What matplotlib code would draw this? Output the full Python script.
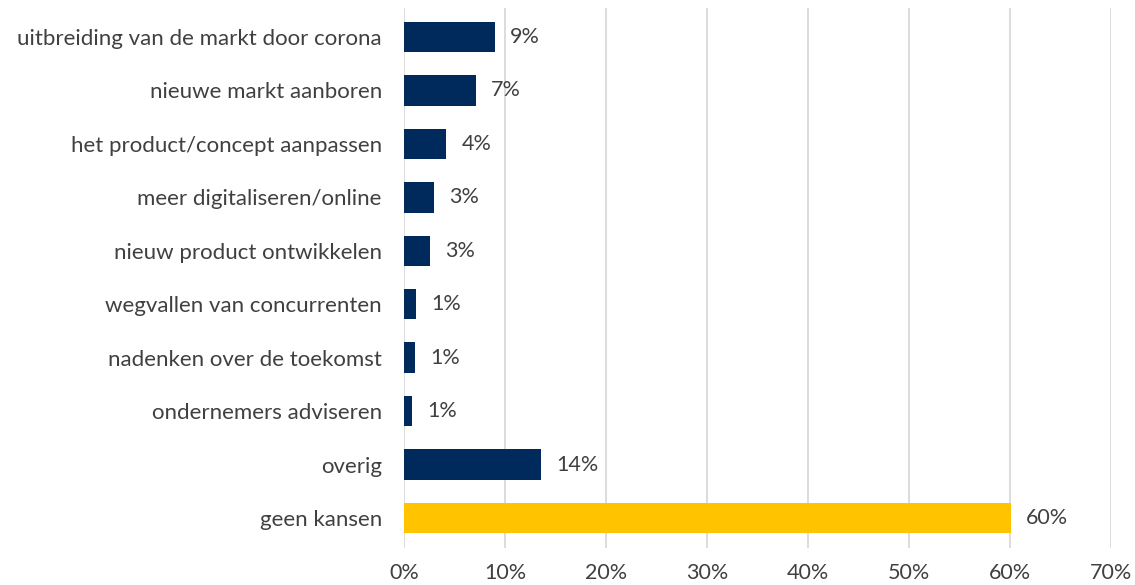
import matplotlib
matplotlib.use("Agg")
import matplotlib.pyplot as plt

# data (top to bottom as in the picture)
categories = [
    "uitbreiding van de markt door corona",
    "nieuwe markt aanboren",
    "het product/concept aanpassen",
    "meer digitaliseren/online",
    "nieuw product ontwikkelen",
    "wegvallen van concurrenten",
    "nadenken over de toekomst",
    "ondernemers adviseren",
    "overig",
    "geen kansen",
]
values = [9.0, 7.1, 4.2, 3.0, 2.6, 1.2, 1.1, 0.8, 13.6, 60.1]
labels = ["9%", "7%", "4%", "3%", "3%", "1%", "1%", "1%", "14%", "60%"]
bar_colors = ["#002A5C"] * 9 + ["#FFC300"]
xticks = [0, 10, 20, 30, 40, 50, 60, 70]

plt.rcParams["font.family"] = ["Lato", "DejaVu Sans"]
text_color = "#404040"

fig = plt.figure(figsize=(11.35, 5.85), dpi=100)
ax = fig.add_axes([0.356, 0.0632, 0.623, 0.923])

pos = list(range(len(categories)))[::-1]
ax.barh(pos, values, height=0.57, color=bar_colors, zorder=3)
for p, v, lab in zip(pos, values, labels):
    ax.text(v + 1.5, p, lab, va="center", ha="left", fontsize=15.5, color=text_color)

ax.set_xlim(0, 70)
ax.set_ylim(-0.56, 9.54)
ax.set_yticks(pos)
ax.set_yticklabels(categories, fontsize=16, color=text_color)
ax.set_xticks(xticks)
ax.set_xticklabels([f"{t}%" for t in xticks], fontsize=15.5, color=text_color)

for s in ax.spines.values():
    s.set_visible(False)
ax.tick_params(axis="both", length=0)
ax.tick_params(axis="y", pad=16)
ax.tick_params(axis="x", pad=11)
ax.grid(axis="x", color="#D9D9D9", linewidth=1.3, zorder=0)

fig.savefig("out.png", dpi=100)
